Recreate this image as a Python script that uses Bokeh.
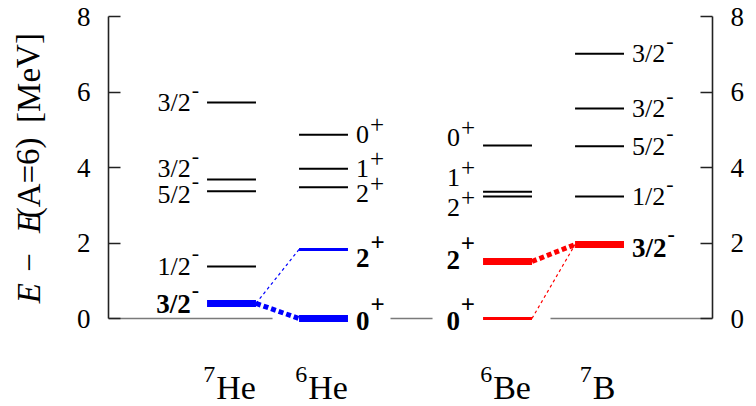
from bokeh.plotting import figure
from bokeh.layouts import row
from bokeh.models import ColumnDataSource, FixedTicker, LinearAxis, Range1d
from bokeh.core.properties import value
from bokeh.embed import file_html
from bokeh.resources import INLINE

# ---- data -------------------------------------------------------------
# nuclei shown along the horizontal direction
nuclei_mass = ["7", "6", "6", "7"]
nuclei_symbol = ["He", "He", "Be", "B"]
nuclei_column = [0.0, 1.0, 3.0, 4.0]

# level energies E - E(A=6) in MeV, with spin and parity of each level
he7_energy = [0.40, 1.38, 3.37, 3.68, 5.72]
he7_spin = ["3/2", "1/2", "5/2", "3/2", "3/2"]
he7_parity = ["-", "-", "-", "-", "-"]

he6_energy = [0.00, 1.83, 3.48, 3.97, 4.87]
he6_spin = ["0", "2", "2", "1", "0"]
he6_parity = ["+", "+", "+", "+", "+"]

be6_energy = [0.00, 1.51, 3.23, 3.36, 4.58]
be6_spin = ["0", "2", "2", "1", "0"]
be6_parity = ["+", "+", "+", "+", "+"]

b7_energy = [1.96, 3.23, 4.56, 5.56, 7.01]
b7_spin = ["3/2", "1/2", "5/2", "3/2", "3/2"]
b7_parity = ["-", "-", "-", "-", "-"]

y_ticks = [0, 2, 4, 6, 8]

# ---- styling ----------------------------------------------------------
BLUE = "#0000ff"
RED = "#ff0000"
SERIF = "Liberation Serif"

nuclei_levels = [
    (he7_energy, he7_spin, he7_parity),
    (he6_energy, he6_spin, he6_parity),
    (be6_energy, be6_spin, be6_parity),
    (b7_energy, b7_spin, b7_parity),
]
label_side = ["left", "right", "left", "right"]
highlight_color = [BLUE, BLUE, RED, RED]
# bar style of each level: plain, medium or thick (coloured ones get bold labels)
level_kind = [
    ["thick", "plain", "plain", "plain", "plain"],
    ["thick", "medium", "plain", "plain", "plain"],
    ["medium", "thick", "plain", "plain", "plain"],
    ["thick", "plain", "plain", "plain", "plain"],
]
# vertical nudges of labels (px, positive = downwards) to keep them apart
label_nudge = [
    [1, 0, 3, -11, 0],
    [2, 9, 6, 0, 0],
    [2, -2, 11, -14, -8],
    [3, 0, 0, 0, 0],
]
# transitions: (nucleus, level) -> (nucleus, level), line style
links = [
    (0, 0, 1, 0, "dotted"),
    (0, 0, 1, 1, "dashed"),
    (2, 1, 3, 0, "dotted"),
    (2, 0, 3, 0, "dashed"),
]

HALF = 0.266          # half length of a level bar (column units)
GAP = 8               # px between bar end and label
WIDTH = {"plain": 2, "medium": 3, "thick": 7}
S_MAIN, S_BOLD = 26, 27
S_SUP = {"+": 25, "-": 22}
# how far a parity sign is raised above its spin (px): (sign, bold)
SUP_RISE = {("+", False): 10, ("+", True): 16, ("-", False): 13, ("-", True): 14}


def text_width(t, size):
    adv = {"/": 0.278, "-": 0.333, "+": 0.564}
    return sum(adv.get(c, 0.5) for c in t) * size


def px(size):
    return value(f"{size}px")


p = figure(
    width=694, height=406,
    x_range=Range1d(-1.337, 5.228), y_range=Range1d(-2.331, 8.0),
    x_axis_type=None, output_backend="svg", toolbar_location=None,
    min_border_left=46, min_border_right=44, min_border_top=16, min_border_bottom=0,
)
p.outline_line_color = None
p.grid.visible = False
p.background_fill_color = "white"
p.border_fill_color = "white"

right_axis = LinearAxis()
p.add_layout(right_axis, "right")
for ax in p.yaxis:
    ax.ticker = FixedTicker(ticks=y_ticks)
    ax.bounds = (0, 8)
    ax.major_tick_in = 12
    ax.major_tick_out = 0
    ax.minor_tick_in = 0
    ax.minor_tick_out = 0
    ax.axis_line_width = 1.6
    ax.axis_line_color = "#222222"
    ax.major_tick_line_width = 1.6
    ax.major_tick_line_color = "#222222"
    ax.major_label_text_font = SERIF
    ax.major_label_text_font_style = "normal"
    ax.major_label_text_font_size = "27px"
    ax.major_label_text_color = "black"
    ax.major_label_standoff = 18

# zero-energy reference line (interrupted behind the ground-state labels)
base_x0 = [-1.337, 1.728, 3.467]
base_x1 = [0.446, 2.185, 5.228]
p.segment(x0=base_x0, y0=[0, 0, 0], x1=base_x1, y1=[0, 0, 0],
          line_color="#7a7a7a", line_width=1.5)

# transitions between levels
for a, ia, b, ib, style in links:
    xa = nuclei_column[a] + HALF
    xb = nuclei_column[b] - HALF
    ya = nuclei_levels[a][0][ia]
    yb = nuclei_levels[b][0][ib]
    col = highlight_color[a]
    if style == "dotted":
        p.line([xa, xb], [ya, yb], line_color=col, line_width=5, line_dash="5 3")
    else:
        p.line([xa, xb], [ya, yb], line_color=col, line_width=1.2, line_dash="3 3")

# level bars
bars = dict(x0=[], x1=[], y=[], color=[], lw=[])
labels = {}
for i, (energy, spin, parity) in enumerate(nuclei_levels):
    c = nuclei_column[i]
    side = label_side[i]
    for j, e in enumerate(energy):
        kind = level_kind[i][j]
        bars["x0"].append(c - HALF)
        bars["x1"].append(c + HALF)
        bars["y"].append(e)
        bars["color"].append("black" if kind == "plain" else highlight_color[i])
        bars["lw"].append(WIDTH[kind])
        bold = kind != "plain"
        size = S_BOLD if bold else S_MAIN
        sup_size = S_SUP[parity[j]]
        sup_rise = SUP_RISE[(parity[j], bold)]
        key = (side, bold, parity[j])
        d = labels.setdefault(key, dict(mx=[], my=[], mt=[], mxo=[], myo=[],
                                        sx=[], sy=[], st=[], sxo=[], syo=[]))
        nudge = label_nudge[i][j]
        w_main = text_width(spin[j], size)
        w_sup = text_width(parity[j], sup_size)
        if side == "left":
            ax_ = c - HALF
            sxo = -GAP
            mxo = -GAP - w_sup - 1
        else:
            ax_ = c + HALF
            mxo = GAP
            sxo = GAP + w_main + 1
        d["mx"].append(ax_); d["my"].append(e); d["mt"].append(spin[j])
        d["mxo"].append(mxo); d["myo"].append(nudge)
        d["sx"].append(ax_); d["sy"].append(e); d["st"].append(parity[j])
        d["sxo"].append(sxo); d["syo"].append(nudge - sup_rise)

p.segment(x0="x0", y0="y", x1="x1", y1="y", line_color="color", line_width="lw",
          source=ColumnDataSource(bars))

for (side, bold, par), d in labels.items():
    align = "right" if side == "left" else "left"
    style = value("bold" if bold else "normal")
    p.text(x=d["mx"], y=d["my"], text=d["mt"], x_offset=d["mxo"], y_offset=d["myo"],
           text_align=align, text_baseline="middle", text_font=value(SERIF),
           text_font_style=style, text_font_size=px(S_BOLD if bold else S_MAIN),
           text_color="black")
    p.text(x=d["sx"], y=d["sy"], text=d["st"], x_offset=d["sxo"], y_offset=d["syo"],
           text_align=align, text_baseline="middle", text_font=value(SERIF),
           text_font_style=style, text_font_size=px(S_SUP[par]), text_color="black")

# nucleus names under the columns, mass number as a leading superscript
S_NAME, S_MASS = 34, 24
NAME_Y = -1.83
name_x, name_t, name_off, mass_t, mass_off = [], [], [], [], []
for i, c in enumerate(nuclei_column):
    w_mass = text_width(nuclei_mass[i], S_MASS)
    w_sym = {"He": 1.166, "Be": 1.111, "B": 0.667}[nuclei_symbol[i]] * S_NAME
    left = -(w_mass + w_sym + 1) / 2 - 2
    name_x.append(c)
    name_t.append(nuclei_symbol[i])
    name_off.append(left + w_mass + 1)
    mass_t.append(nuclei_mass[i])
    mass_off.append(left)
p.text(x=name_x, y=[NAME_Y] * 4, text=name_t, x_offset=name_off, text_align="left",
       text_baseline="middle", text_font=value(SERIF), text_font_style=value("normal"),
       text_font_size=px(S_NAME), text_color="black")
p.text(x=name_x, y=[NAME_Y] * 4, text=mass_t, x_offset=mass_off, y_offset=-13,
       text_align="left", text_baseline="middle", text_font=value(SERIF),
       text_font_style=value("normal"), text_font_size=px(S_MASS), text_color="black")

# vertical axis title in its own strip, built from pieces so the E's are italic;
# each piece is centred at its place along the strip (px from the bottom)
S_TITLE = 33
tf = figure(width=62, height=406, x_range=Range1d(0, 62), y_range=Range1d(0, 406),
            x_axis_type=None, y_axis_type=None, output_backend="svg",
            toolbar_location=None, min_border=0)
tf.outline_line_color = None
tf.grid.visible = False
title_parts = [("E", "italic", 118), ("\u2212", "normal", 150), ("E", "italic", 191),
               ("(A=6)", "normal", 238), ("[MeV]", "normal", 342)]
for t, st, at in title_parts:
    tf.text(x=[28], y=[at], text=[t], angle=1.5708, text_align="center",
            text_baseline="middle", text_font=value(SERIF), text_font_style=value(st),
            text_font_size=px(S_TITLE), text_color="black")

open("out.html", "w").write(file_html(row(tf, p), INLINE))
